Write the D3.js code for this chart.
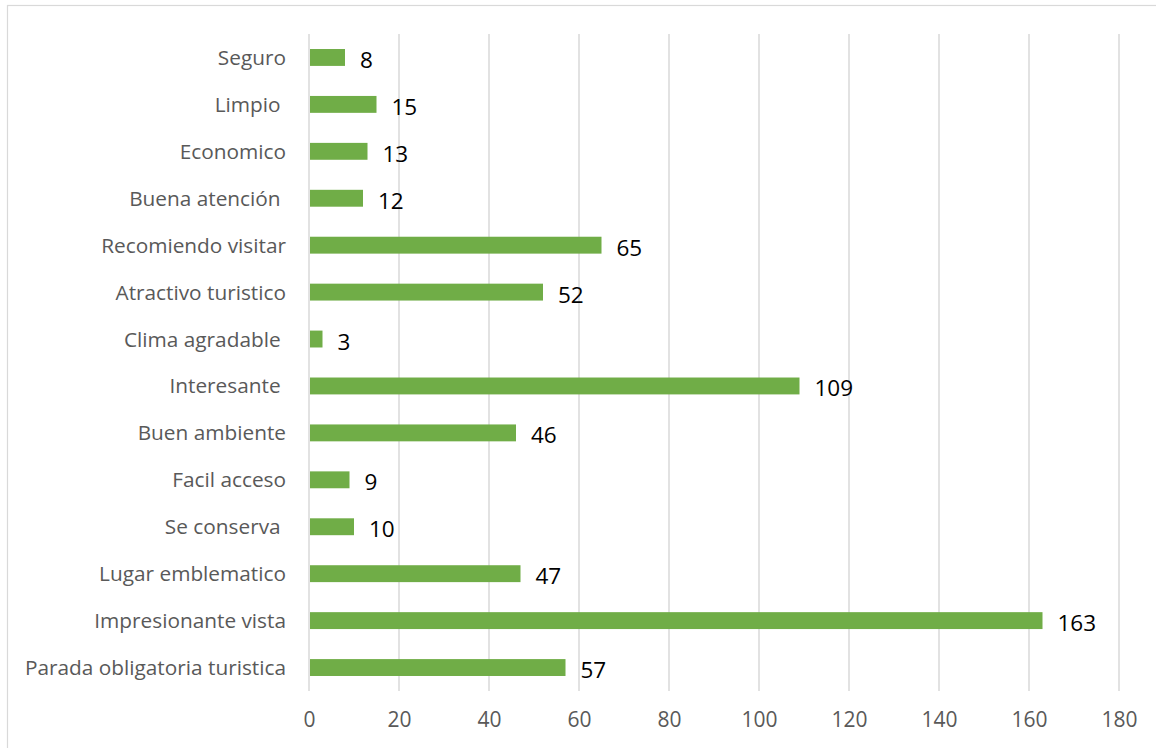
<!DOCTYPE html>
<html>
<head>
<meta charset="utf-8">
<script src="https://cdn.jsdelivr.net/npm/d3@7"></script>
<style>
  body { margin: 0; background: #fff; }
  svg text { font-family: "Open Sans", "Noto Sans", sans-serif; white-space: pre; }
</style>
</head>
<body>
<svg id="chart"></svg>
<script>
// categories top to bottom
var categories = ["Seguro", "Limpio ", "Economico", "Buena atención ", "Recomiendo visitar",
    "Atractivo turistico", "Clima agradable ", "Interesante ", "Buen ambiente", "Facil acceso",
    "Se conserva ", "Lugar emblematico", "Impresionante vista", "Parada obligatoria turistica"]
var values = [8, 15, 13, 12, 65, 52, 3, 109, 46, 9, 10, 47, 163, 57]
var xTicks = [0, 20, 40, 60, 80, 100, 120, 140, 160, 180]

var dimensions = {
    width: 1156,
    height: 748,
    margin: { top: 34, bottom: 57, right: 37, left: 309 }
}

var svg = d3.select("#chart")
    .attr("width", dimensions.width)
    .attr("height", dimensions.height)

// outer chart border
svg.append("rect")
    .attr("x", 7.5).attr("y", 5.5)
    .attr("width", dimensions.width + 10).attr("height", dimensions.height + 10)
    .attr("fill", "none")
    .attr("stroke", "#d9d9d9")
    .attr("stroke-width", 1.2)

var xScale = d3.scaleLinear()
    .domain([0, 180])
    .range([dimensions.margin.left, dimensions.width - dimensions.margin.right])

var yScale = d3.scaleBand()
    .domain(categories)
    .range([dimensions.margin.top, dimensions.height - dimensions.margin.bottom])
    .paddingInner(0.64)
    .paddingOuter(0.32)

// gridlines
svg.append("g")
    .selectAll("line")
    .data(xTicks)
    .enter()
    .append("line")
    .attr("x1", d => xScale(d))
    .attr("x2", d => xScale(d))
    .attr("y1", dimensions.margin.top)
    .attr("y2", dimensions.height - dimensions.margin.bottom)
    .attr("stroke", "#d9d9d9")
    .attr("stroke-width", 1.5)

var data = categories.map((c, i) => ({ name: c, value: values[i] }))

svg.append("g")
    .selectAll("rect")
    .data(data)
    .enter()
    .append("rect")
    .attr("x", xScale(0) + 1)
    .attr("y", d => yScale(d.name))
    .attr("width", d => xScale(d.value) - xScale(0) - 1)
    .attr("height", yScale.bandwidth())
    .attr("fill", "#70ad47")

// value labels
svg.append("g")
    .selectAll("text")
    .data(data)
    .enter()
    .append("text")
    .attr("x", d => xScale(d.value) + 15)
    .attr("y", d => yScale(d.name) + yScale.bandwidth() / 2 + 2)
    .attr("dominant-baseline", "central")
    .attr("font-size", 22.5)
    .attr("fill", "#000")
    .text(d => d.value)

// category labels
var yAxisGen = d3.axisLeft(yScale).tickSize(0).tickPadding(23)
var yAxis = svg.append("g")
    .attr("transform", `translate(${dimensions.margin.left},0)`)
    .call(yAxisGen)
yAxis.select(".domain").remove()
yAxis.selectAll("text")
    .attr("font-size", 20.8)
    .attr("dy", "0.36em")
    .attr("fill", "#595959")
    .style("font-family", "'Open Sans', sans-serif")

// x axis labels
var xAxisGen = d3.axisBottom(xScale).tickValues(xTicks).tickSize(0).tickPadding(21)
var xAxis = svg.append("g")
    .attr("transform", `translate(0,${dimensions.height - dimensions.margin.bottom})`)
    .call(xAxisGen)
xAxis.select(".domain").remove()
xAxis.selectAll("text")
    .attr("font-size", 21)
    .attr("fill", "#595959")
    .style("font-family", "'Open Sans', sans-serif")
</script>
</body>
</html>
